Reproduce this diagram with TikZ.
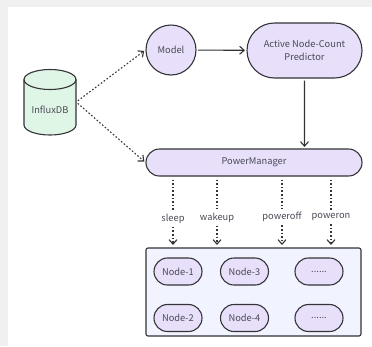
\documentclass[tikz,border=0pt]{standalone}
\usepackage{fontspec}
\setmainfont{Noto Sans CJK SC}
\usetikzlibrary{arrows.meta,shapes.misc}
\definecolor{pagegray}{HTML}{F0F0F0}
\definecolor{edgedark}{HTML}{333338}
\definecolor{textdark}{HTML}{4A4A55}
\definecolor{purplefill}{HTML}{E8E0FB}
\definecolor{greenfill}{HTML}{DFF5E6}
\definecolor{bluefill}{HTML}{F1F4FE}
\tikzset{
	every node/.style={font=\fontsize{9.3}{13}\selectfont, text=textdark},
	pill/.style={draw=edgedark, line width=1.1pt, fill=purplefill, rounded rectangle, inner sep=0pt, align=center},
	nodepill/.style={pill, minimum width=48pt, minimum height=27pt},
	flow/.style={draw=edgedark, line width=1.1pt, -{Straight Barb[length=4.5pt,width=8pt]}, shorten >=1.5pt},
	dotflow/.style={flow, dash pattern=on 1.6pt off 2pt},
	dotline/.style={draw=edgedark, line width=1.1pt, dash pattern=on 1.6pt off 2pt, shorten <=3pt}
}
\begin{document}
\begin{tikzpicture}[x=1pt, y=-1pt]
	\useasboundingbox (0,0) rectangle (372,346);
	% page
	\fill[pagegray] (0,0) rectangle (372,346);
	\fill[white] (8,7) rectangle (372,346);

	% group of nodes
	\node[draw=edgedark, line width=1.1pt, fill=bluefill, rounded corners=2pt, minimum width=215pt, minimum height=88pt, inner sep=0pt] (cluster) at (253.5,292) {};

	% database drum
	\draw[edgedark, line width=1.1pt, fill=greenfill] (24,79.5) -- (24,125) arc[start angle=180, end angle=0, x radius=26, y radius=10] -- (76,79.5) arc[start angle=0, end angle=-180, x radius=26, y radius=10] -- cycle;
	\draw[edgedark, line width=1.1pt] (24,79.5) arc[start angle=180, end angle=0, x radius=26, y radius=10];
	\node[minimum width=52pt, minimum height=65pt, inner sep=0pt] (influx) at (50,102) {};
	\node at (50,110) {InfluxDB};

	% main blocks
	\node[draw=edgedark, line width=1.1pt, fill=purplefill, circle, minimum size=50pt, inner sep=0pt] (model) at (171,50) {Model};
	\node[pill, minimum width=115pt, minimum height=55pt] (predictor) at (304.5,50.5) {Active Node-Count\\Predictor};
	\node[pill, minimum width=216pt, minimum height=27pt] (power) at (254,162.5) {PowerManager};

	% nodes
	\node[nodepill] (nodeA) at (178,271.5) {Node-1};
	\node[nodepill] (nodeB) at (178,318) {Node-2};
	\node[nodepill] (nodeC) at (244.5,271.5) {Node-3};
	\node[nodepill] (nodeD) at (244.5,318) {Node-4};
	\node[nodepill] (dotsA) at (319,271.5) {......};
	\node[nodepill] (dotsB) at (319,318) {......};

	% labels
	\node (sleep) at (173,218.5) {sleep};
	\node (wakeup) at (217,217.5) {wakeup};
	\node (poweroff) at (282,217) {poweroff};
	\node (poweron) at (331,217) {poweron};

	% connectors
	\draw[dotflow, shorten <=2pt] (influx.east) -- (model.west);
	\draw[dotflow, shorten <=2pt] (influx.east) -- (power.west);
	\draw[flow, shorten <=1.5pt] (model) -- (predictor);
	\draw[flow, shorten <=2pt] (predictor) -- (predictor |- power.north);

	\draw[dotline] (power.south -| sleep) -- (sleep);
	\draw[dotline] (power.south -| wakeup) -- (wakeup);
	\draw[dotline] (power.south -| poweroff) -- (poweroff);
	\draw[dotline] (power.south -| poweron) -- (poweron);
	\draw[dotflow, shorten >=2.5pt] (sleep) -- (sleep |- cluster.north);
	\draw[dotflow, shorten >=2.5pt] (wakeup) -- (wakeup |- cluster.north);
	\draw[dotflow, shorten >=2.5pt] (poweroff) -- (poweroff |- cluster.north);
	\draw[dotflow, shorten >=2.5pt] (poweron) -- (poweron |- cluster.north);

\end{tikzpicture}
\end{document}
